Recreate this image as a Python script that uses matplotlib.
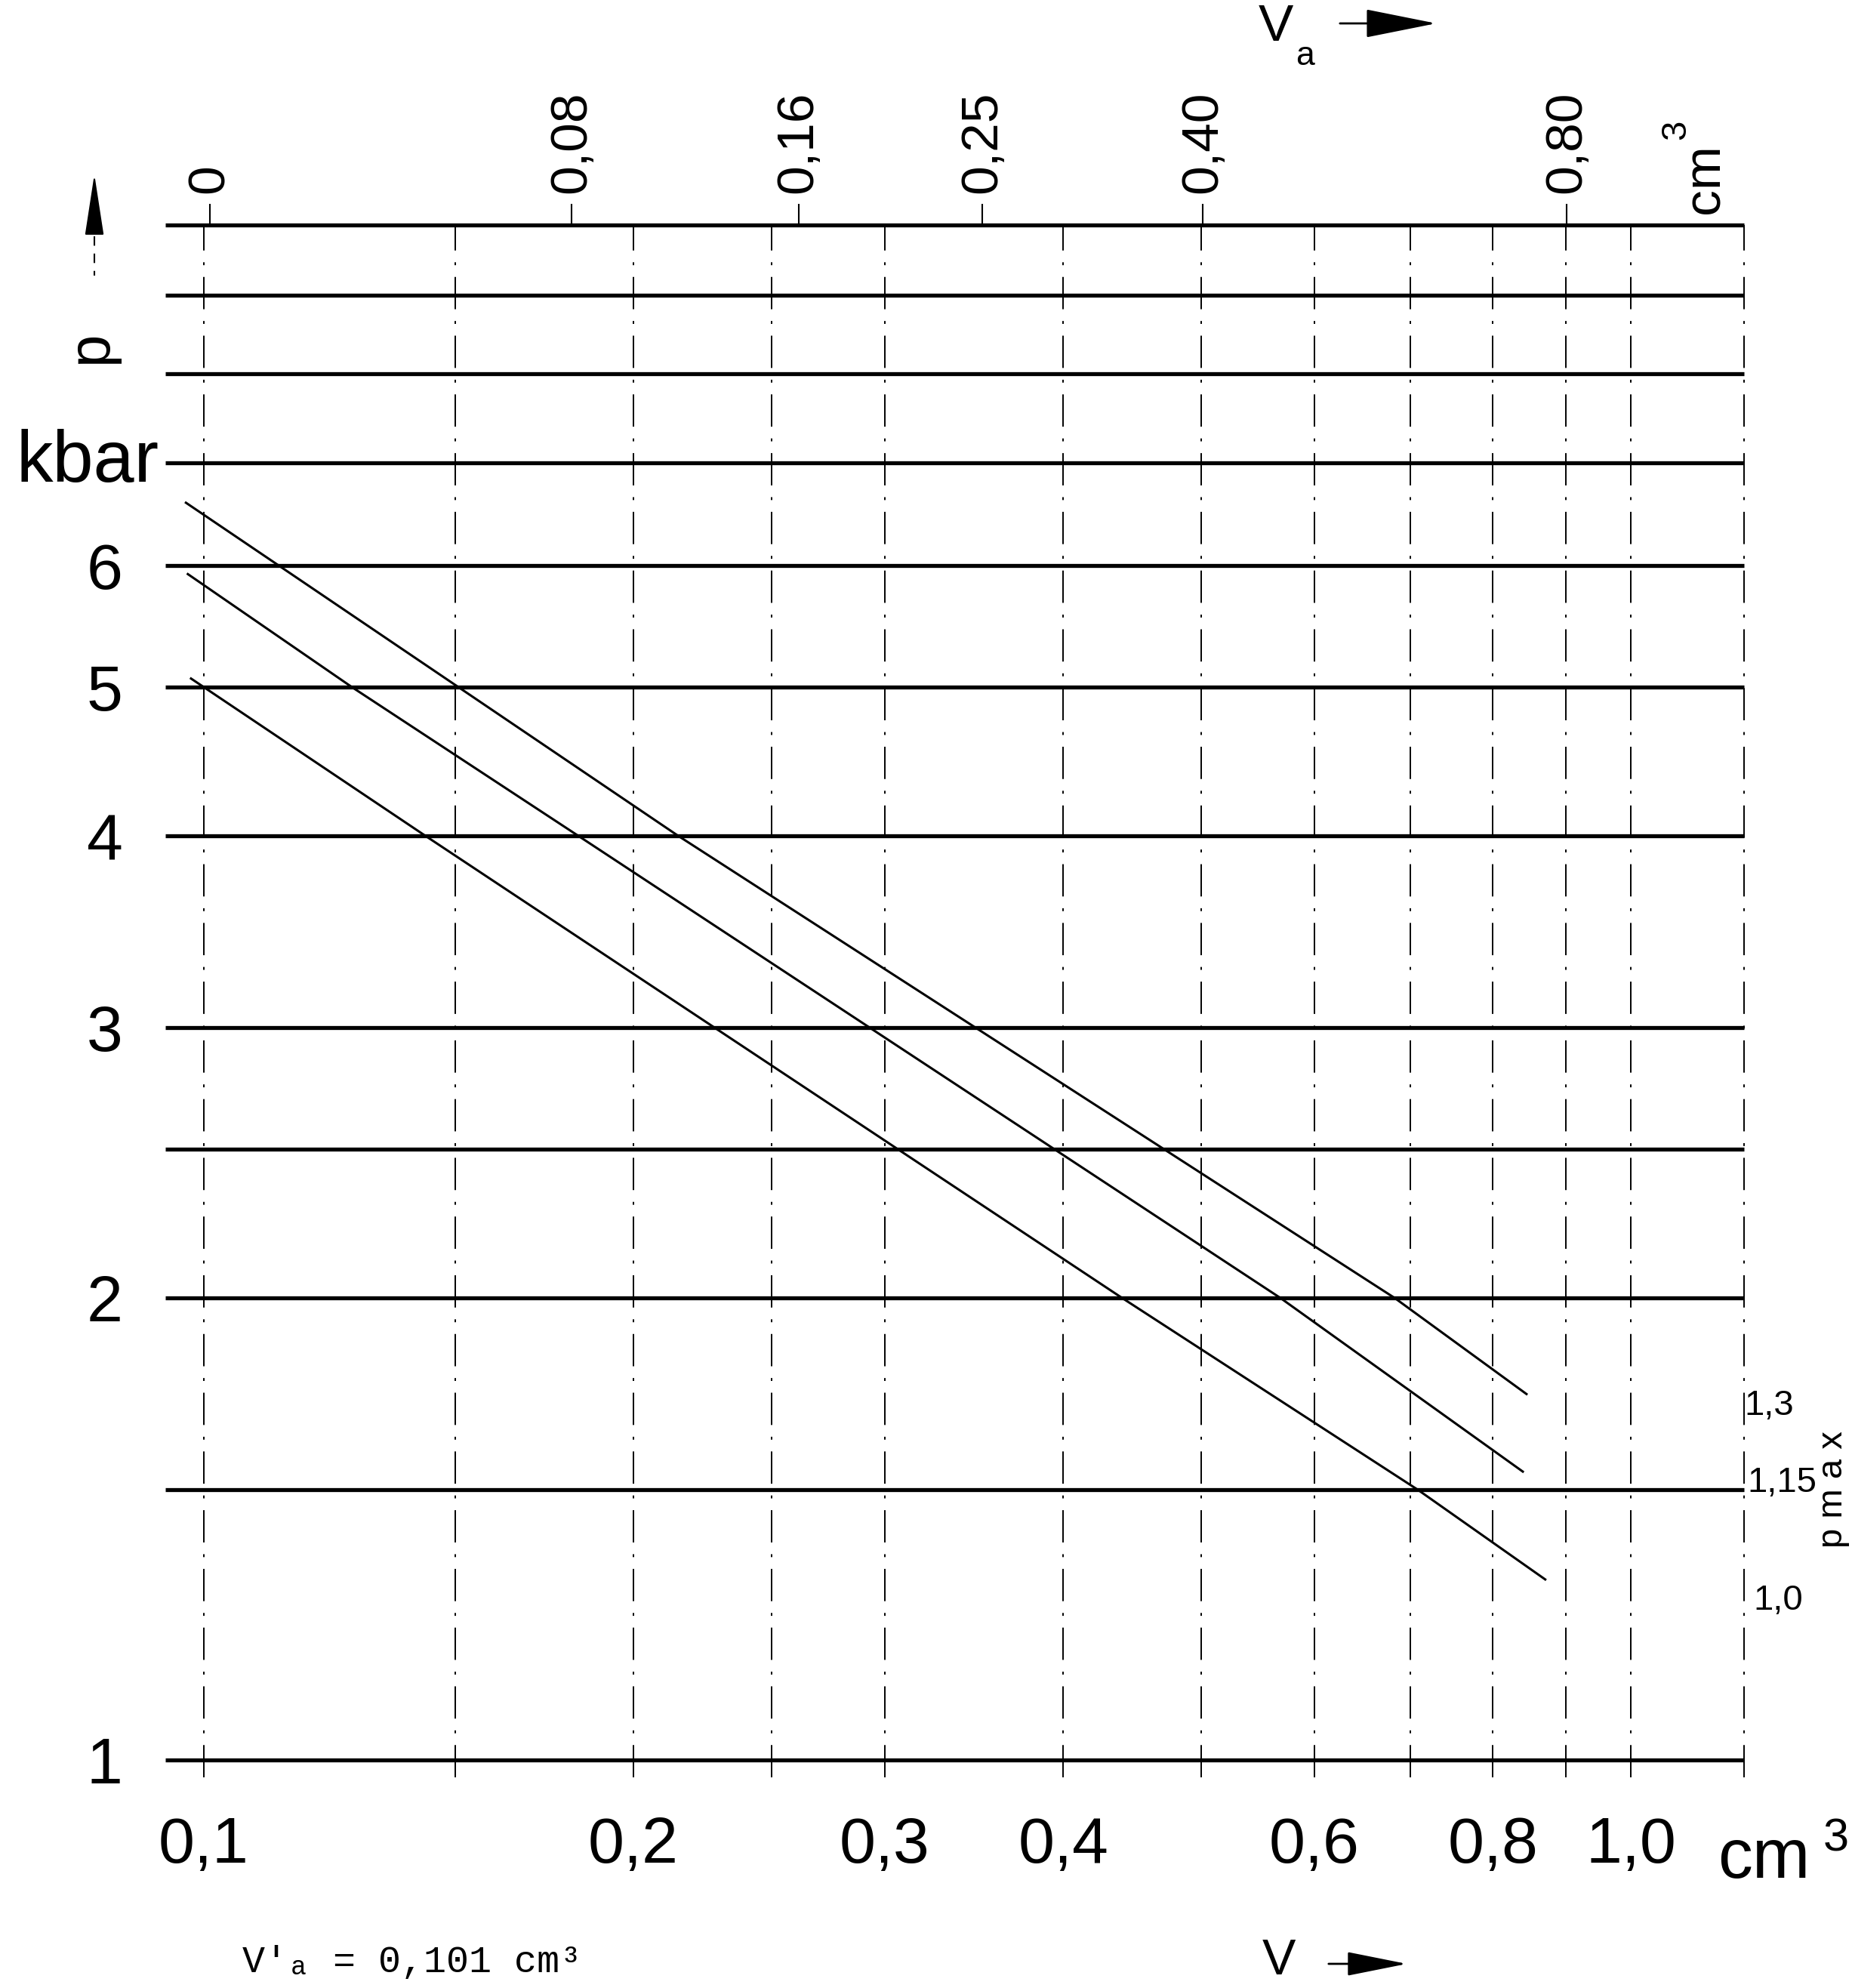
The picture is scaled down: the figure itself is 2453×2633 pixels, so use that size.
import matplotlib
matplotlib.use("Agg")
import matplotlib.pyplot as plt
from matplotlib import font_manager
from matplotlib.lines import Line2D
from matplotlib.patches import FancyArrowPatch
from matplotlib.ticker import NullLocator

# three curves p(V), one for each p_max ratio
v_13 = [0.097, 0.215, 0.683, 0.846]
p_13 = [6.6, 4.0, 2.0, 1.73]
v_115 = [0.0973, 0.127, 0.183, 0.568, 0.841]
p_115 = [5.93, 5.0, 4.0, 2.0, 1.54]
v_10 = [0.0978, 0.143, 0.44, 0.709, 0.872]
p_10 = [5.07, 4.0, 2.0, 1.5, 1.31]
curve_labels = ["1,3", "1,15", "1,0"]

# grid lines
p_grid = [1, 1.5, 2, 2.5, 3, 4, 5, 6, 7, 8, 9, 10]
v_grid = [0.1, 0.15, 0.2, 0.25, 0.3, 0.4, 0.5, 0.6, 0.7, 0.8, 0.9, 1.0, 1.2]

# bottom axis V
v_ticks = [0.1, 0.2, 0.3, 0.4, 0.6, 0.8, 1.0]
v_ticklabels = ["0,1", "0,2", "0,3", "0,4", "0,6", "0,8", "1,0"]
# left axis p
p_ticks = [1, 2, 3, 4, 5, 6]
p_ticklabels = ["1", "2", "3", "4", "5", "6"]
# top axis V_a = V - V'_a
v_offset = 0.101
va_ticks = [0, 0.08, 0.16, 0.25, 0.40, 0.80]
va_ticklabels = ["0", "0,08", "0,16", "0,25", "0,40", "0,80"]


def pick(name, fallback):
    try:
        font_manager.findfont(name, fallback_to_default=False)
        return name
    except Exception:
        return fallback


main_font = pick("Liberation Sans", "DejaVu Sans")
mono_font = pick("Liberation Mono", "DejaVu Sans Mono")
plt.rcParams["font.family"] = [main_font, "DejaVu Sans"]

W, H = 2453, 2633


def fx(x):
    return x / W


def fy(y):
    return 1 - y / H


fig = plt.figure(figsize=(W / 100, H / 100), dpi=100)
ax = fig.add_axes([0.0748, 0.1044, 0.8806, 0.7824])
ax.set_xscale("log")
ax.set_yscale("log")
ax.set_xlim(0.09, 1.25)
ax.set_ylim(0.97, 10)
for s in ax.spines.values():
    s.set_visible(False)

ax.hlines(p_grid, 0.094, 1.2, colors="black", lw=3.8, clip_on=False)
ax.vlines(v_grid, 0.975, 10, colors="black", lw=1.4,
          linestyles=[(0, (22, 8, 2, 8))], clip_on=False)

for v, p in [(v_13, p_13), (v_115, p_115), (v_10, p_10)]:
    ax.plot(v, p, color="black", lw=2.2, solid_capstyle="butt")

ax.xaxis.set_minor_locator(NullLocator())
ax.yaxis.set_minor_locator(NullLocator())
ax.set_xticks(v_ticks, v_ticklabels)
ax.set_yticks(p_ticks, p_ticklabels)
ax.tick_params(axis="x", length=0, pad=34, labelsize=62)
ax.tick_params(axis="y", length=0, pad=15, labelsize=62)

ax.text(0.093, 7, "kbar", ha="right", va="center", fontsize=70)

# top axis
ax2 = ax.twiny()
ax2.set_xscale("log")
ax2.set_xlim(ax.get_xlim())
for s in ax2.spines.values():
    s.set_visible(False)
ax2.xaxis.set_minor_locator(NullLocator())
ax2.set_xticks([t + v_offset for t in va_ticks], va_ticklabels, rotation=90)
ax2.tick_params(axis="x", length=20, width=1.5, direction="out", pad=10, labelsize=50)

# axis names and arrows
fig.text(fx(120), fy(459), "p", rotation=90, fontsize=56, ha="center", va="center")
fig.add_artist(FancyArrowPatch((fx(125), fy(300)), (fx(125), fy(228)), transform=fig.transFigure,
                               arrowstyle="-|>,head_length=2.6,head_width=0.4", mutation_scale=20,
                               color="black", lw=1.5))
fig.add_artist(Line2D([fx(125), fx(125)], [fy(290), fy(365)], lw=1.5, ls=(0, (6, 5)),
                      color="black", transform=fig.transFigure))

fig.text(fx(1690), fy(36), "V", fontsize=50, ha="center", va="center")
fig.text(fx(1728), fy(74), "a", fontsize=32, ha="center", va="center")
fig.add_artist(FancyArrowPatch((fx(1772), fy(31)), (fx(1905), fy(31)), transform=fig.transFigure,
                               arrowstyle="-|>,head_length=3.0,head_width=0.6", mutation_scale=20,
                               color="black", lw=2))

fig.text(fx(1694), fy(2598), "V", fontsize=48, ha="center", va="center")
fig.add_artist(FancyArrowPatch((fx(1757), fy(2601)), (fx(1866), fy(2601)), transform=fig.transFigure,
                               arrowstyle="-|>,head_length=2.5,head_width=0.5", mutation_scale=20,
                               color="black", lw=2))

fig.text(fx(2275), fy(2487), "cm", fontsize=66, ha="left", va="baseline")
fig.text(fx(2415), fy(2452), "3", fontsize=44, ha="left", va="baseline")
fig.text(fx(2258), fy(283), "cm", rotation=90, fontsize=50, ha="center", va="bottom")
fig.text(fx(2220), fy(172), "3", rotation=90, fontsize=34, ha="center", va="center")

# p_max labels at the curve ends
for lab, x, y in zip(curve_labels, [2343, 2360, 2355], [1862, 1964, 2120]):
    fig.text(fx(x), fy(y), lab, fontsize=34, ha="center", va="center")
fig.text(fx(2428), fy(1973), "p m a x", rotation=90, fontsize=34, ha="center", va="center")

fig.text(fx(321), fy(2612), "V'ₐ = 0,101 cm³", family=[mono_font, "DejaVu Sans Mono"],
         fontsize=36, ha="left", va="baseline")

fig.savefig("out.png", dpi=100)
